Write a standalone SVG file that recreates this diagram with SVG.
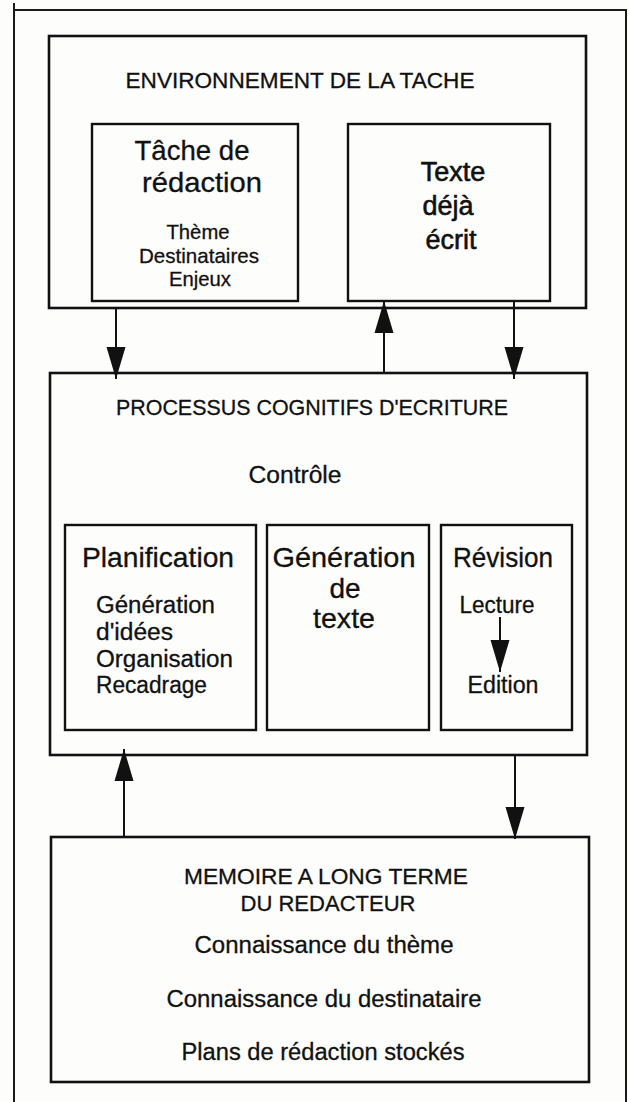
<svg xmlns="http://www.w3.org/2000/svg" width="629" height="1102" viewBox="0 0 629 1102">
  <style>
    .frame { fill: none; stroke: #1a1a1a; stroke-width: 2; }
    .box { fill: none; stroke: #111; stroke-width: 2.6; }
    .sub { fill: none; stroke: #111; stroke-width: 2.4; }
    .conn line { stroke: #111; stroke-width: 2; }
    text { font-family: "Liberation Sans", Arial, sans-serif; fill: #111; stroke: #111; stroke-width: 0.3; text-anchor: middle; }
    .cap { font-size: 22.5px; }
    .big { font-size: 28px; }
    .mid { font-size: 23px; }
    .sm { font-size: 21px; }
    .helv { font-size: 27px; stroke-width: 0.6; }
    .left { text-anchor: start; }
  </style>
  <defs>
    <marker id="head" viewBox="0 -10 32 20" refX="32" refY="0" markerWidth="32" markerHeight="20" markerUnits="userSpaceOnUse" orient="auto">
      <path d="M0,-9.5 L32,0 L0,9.5 Z" fill="#111"/>
    </marker>
  </defs>

  <rect width="629" height="1102" fill="#fdfdfc"/>

  <!-- page frame -->
  <path class="frame" d="M14,3 V1102 M14,10 H626 V1102"/>

  <!-- task environment -->
  <g id="environnement">
    <rect class="box" x="49" y="36" width="537" height="272"/>
    <text class="cap" x="300" y="88" textLength="349" lengthAdjust="spacingAndGlyphs">ENVIRONNEMENT DE LA TACHE</text>
  </g>

  <g id="tache">
    <rect class="sub" x="92" y="124" width="206" height="177"/>
    <text class="big" x="192" y="160" textLength="115" lengthAdjust="spacingAndGlyphs">Tâche de</text>
    <text class="big" x="202" y="192" textLength="120" lengthAdjust="spacingAndGlyphs">rédaction</text>
    <text class="sm" x="198" y="239" textLength="63" lengthAdjust="spacingAndGlyphs">Thème</text>
    <text class="sm" x="199" y="263" textLength="120" lengthAdjust="spacingAndGlyphs">Destinataires</text>
    <text class="sm" x="200" y="286" textLength="62" lengthAdjust="spacingAndGlyphs">Enjeux</text>
  </g>

  <g id="texte">
    <rect class="sub" x="348" y="124" width="202" height="177"/>
    <text class="helv" x="453" y="181">Texte</text>
    <text class="helv" x="448" y="215">déjà</text>
    <text class="helv" x="451" y="249">écrit</text>
  </g>

  <!-- cognitive writing processes -->
  <g id="processus">
    <rect class="box" x="50" y="373" width="537" height="382"/>
    <text class="cap" x="312" y="415" textLength="392" lengthAdjust="spacingAndGlyphs">PROCESSUS COGNITIFS D'ECRITURE</text>
    <text class="mid" x="295" y="483" textLength="93" lengthAdjust="spacingAndGlyphs">Contrôle</text>
  </g>

  <g id="planification">
    <rect class="sub" x="65" y="525" width="191" height="205"/>
    <text class="big" x="158" y="567" textLength="152" lengthAdjust="spacingAndGlyphs">Planification</text>
    <text class="mid left" x="96" y="613" textLength="119" lengthAdjust="spacingAndGlyphs">Génération</text>
    <text class="mid left" x="96" y="640" textLength="77" lengthAdjust="spacingAndGlyphs">d'idées</text>
    <text class="mid left" x="96" y="667" textLength="137" lengthAdjust="spacingAndGlyphs">Organisation</text>
    <text class="mid left" x="96" y="693" textLength="111" lengthAdjust="spacingAndGlyphs">Recadrage</text>
  </g>

  <g id="generation">
    <rect class="sub" x="267" y="525" width="162" height="205"/>
    <text class="big" x="344" y="567" textLength="143" lengthAdjust="spacingAndGlyphs">Génération</text>
    <text class="big" x="345" y="598">de</text>
    <text class="big" x="344" y="628" textLength="62" lengthAdjust="spacingAndGlyphs">texte</text>
  </g>

  <g id="revision">
    <rect class="sub" x="441" y="525" width="131" height="205"/>
    <text class="big" x="503" y="567" textLength="100" lengthAdjust="spacingAndGlyphs">Révision</text>
    <text class="mid" x="497" y="613" textLength="75" lengthAdjust="spacingAndGlyphs">Lecture</text>
    <text class="mid" x="503" y="693" textLength="71" lengthAdjust="spacingAndGlyphs">Edition</text>
  </g>

  <!-- long-term memory -->
  <g id="memoire">
    <rect class="box" x="51" y="837" width="538" height="245"/>
    <text class="cap" x="326" y="884" textLength="284" lengthAdjust="spacingAndGlyphs">MEMOIRE A LONG TERME</text>
    <text class="cap" x="328" y="911" textLength="175" lengthAdjust="spacingAndGlyphs">DU REDACTEUR</text>
    <text class="mid" x="324" y="953" textLength="259" lengthAdjust="spacingAndGlyphs">Connaissance du thème</text>
    <text class="mid" x="324" y="1007" textLength="315" lengthAdjust="spacingAndGlyphs">Connaissance du destinataire</text>
    <text class="mid" x="323" y="1060" textLength="283" lengthAdjust="spacingAndGlyphs">Plans de rédaction stockés</text>
  </g>

  <!-- connectors -->
  <g id="connectors" class="conn">
    <line x1="116" y1="308" x2="116" y2="379" marker-end="url(#head)"/>
    <line x1="384" y1="373" x2="384" y2="301" marker-end="url(#head)"/>
    <line x1="514" y1="301" x2="514" y2="379" marker-end="url(#head)"/>
    <line x1="124" y1="837" x2="124" y2="749" marker-end="url(#head)"/>
    <line x1="515" y1="755" x2="515" y2="839" marker-end="url(#head)"/>
    <line x1="500" y1="617" x2="500" y2="672" marker-end="url(#head)"/>
  </g>
</svg>
